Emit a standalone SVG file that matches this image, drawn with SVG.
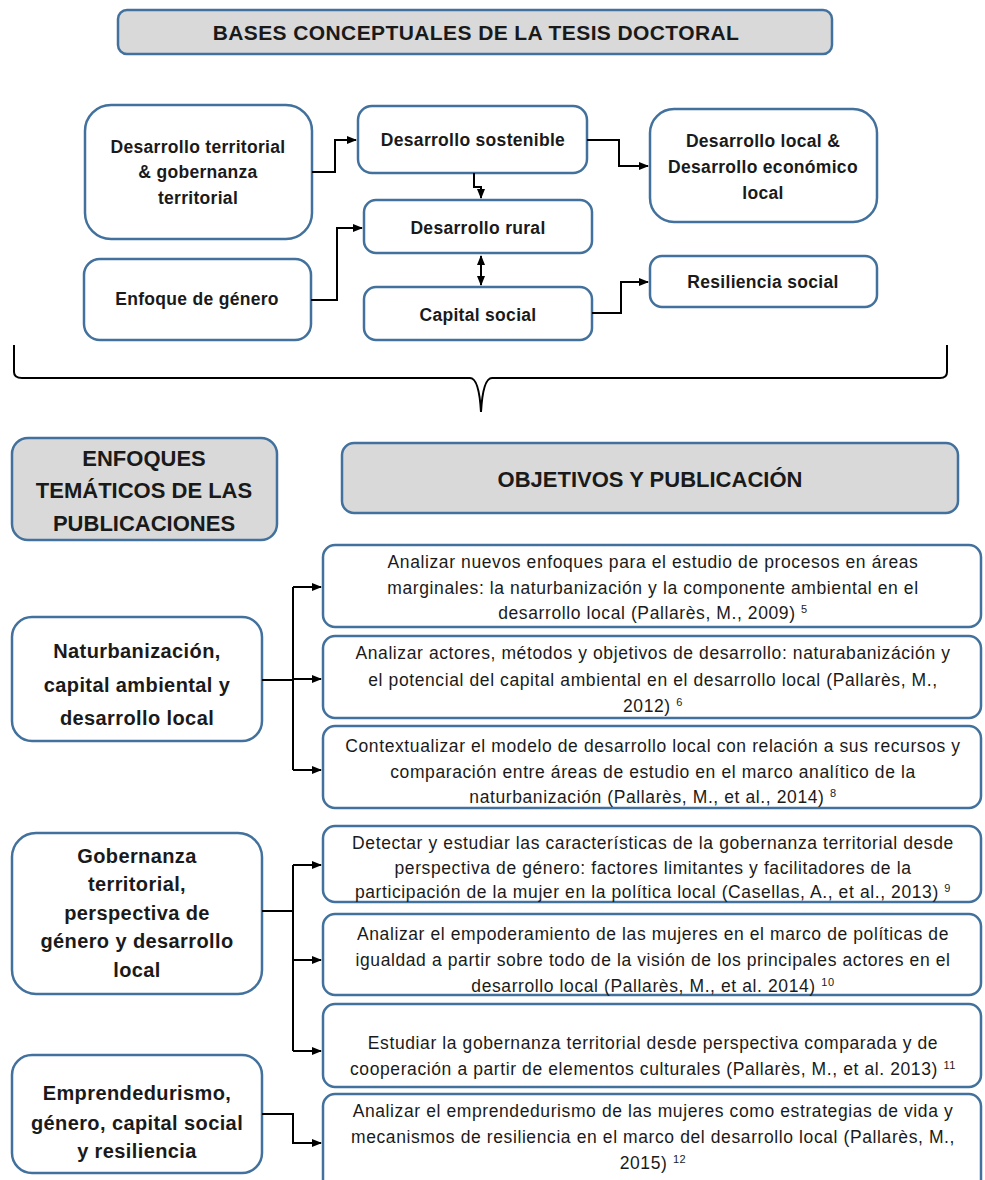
<svg xmlns="http://www.w3.org/2000/svg" width="985" height="1180" viewBox="0 0 985 1180">
<defs>
<marker id="ah" viewBox="0 0 10 10" refX="9" refY="5" markerWidth="5" markerHeight="5" orient="auto-start-reverse">
<path d="M0,1 L10,5 L0,9 z" fill="#000"/>
</marker>
<style>
.box{fill:#fff;stroke:#41719c;stroke-width:2.5}
.hdr{fill:#d9d9d9;stroke:#41719c;stroke-width:2.5}
.t{font-family:"Liberation Sans",Arial,sans-serif;fill:#1a1a1a;text-anchor:middle}
.b{font-weight:bold}
.top{font-size:17.5px;letter-spacing:0.3px}
.th{font-size:20px;letter-spacing:0.4px}
.obj{font-size:17.5px;letter-spacing:0.6px}
.c{fill:none;stroke:#000;stroke-width:2}
.sup{font-size:11px}
</style>
</defs>
<rect width="985" height="1180" fill="#fff"/>

<g id="title">
<rect class="hdr" x="118" y="10" width="714" height="44" rx="9"/>
<text class="t b" x="476" y="40" font-size="21" letter-spacing="0.4">BASES CONCEPTUALES DE LA TESIS DOCTORAL</text>
</g>

<g id="n-territorial">
<rect class="box" x="85" y="105" width="227" height="134" rx="26"/>
<text class="t b top" x="198" y="153">Desarrollo territorial</text>
<text class="t b top" x="198" y="178">&amp; gobernanza</text>
<text class="t b top" x="198" y="204">territorial</text>
</g>
<g id="n-sostenible">
<rect class="box" x="358" y="106" width="229" height="67" rx="14"/>
<text class="t b top" x="473" y="146">Desarrollo sostenible</text>
</g>
<g id="n-local">
<rect class="box" x="650" y="109" width="227" height="113" rx="24"/>
<text class="t b top" x="763" y="147">Desarrollo local &amp;</text>
<text class="t b top" x="763" y="173">Desarrollo económico</text>
<text class="t b top" x="763" y="199">local</text>
</g>
<g id="n-rural">
<rect class="box" x="364" y="200" width="228" height="53" rx="12"/>
<text class="t b top" x="478" y="234">Desarrollo rural</text>
</g>
<g id="n-genero">
<rect class="box" x="84" y="259" width="227" height="81" rx="16"/>
<text class="t b top" x="197" y="305">Enfoque de género</text>
</g>
<g id="n-capital">
<rect class="box" x="364" y="287" width="228" height="53" rx="12"/>
<text class="t b top" x="478" y="321">Capital social</text>
</g>
<g id="n-resiliencia">
<rect class="box" x="650" y="256" width="227" height="51" rx="12"/>
<text class="t b top" x="763" y="288">Resiliencia social</text>
</g>

<g id="brace">
<path class="c" d="M14,345 L14,372 Q14,378 22,378 L470,378 Q479,378 481,412 Q483,378 492,378 L940,378 Q947,378 947,372 L947,345" stroke-width="1.5"/>
</g>

<g id="h-enfoques">
<rect class="hdr" x="12" y="438" width="265" height="102" rx="16"/>
<text class="t b" x="144" y="466" font-size="22">ENFOQUES</text>
<text class="t b" x="144" y="498" font-size="22">TEMÁTICOS DE LAS</text>
<text class="t b" x="144" y="531" font-size="22">PUBLICACIONES</text>
</g>
<g id="h-objetivos">
<rect class="hdr" x="342" y="443" width="616" height="70" rx="12"/>
<text class="t b" x="650" y="487" font-size="22">OBJETIVOS Y PUBLICACIÓN</text>
</g>

<g id="t-naturbanizacion">
<rect class="box" x="12" y="617" width="250" height="124" rx="20"/>
<text class="t b th" x="137" y="658">Naturbanización,</text>
<text class="t b th" x="137" y="692">capital ambiental y</text>
<text class="t b th" x="137" y="725">desarrollo local</text>
</g>
<g id="t-gobernanza">
<rect class="box" x="12" y="833" width="250" height="161" rx="24"/>
<text class="t b th" x="137" y="863">Gobernanza</text>
<text class="t b th" x="137" y="891">territorial,</text>
<text class="t b th" x="137" y="920">perspectiva de</text>
<text class="t b th" x="137" y="948">género y desarrollo</text>
<text class="t b th" x="137" y="977">local</text>
</g>
<g id="t-emprendedurismo">
<rect class="box" x="12" y="1055" width="250" height="118" rx="20"/>
<text class="t b th" x="137" y="1100">Emprendedurismo,</text>
<text class="t b th" x="137" y="1130">género, capital social</text>
<text class="t b th" x="137" y="1158">y resiliencia</text>
</g>

<g id="o1">
<rect class="box" x="323" y="545" width="658" height="82" rx="12"/>
<text class="t obj" x="653" y="568">Analizar nuevos enfoques para el estudio de procesos en áreas</text>
<text class="t obj" x="653" y="594">marginales: la naturbanización y la componente ambiental en el</text>
<text class="t obj" x="653" y="619">desarrollo local (Pallarès, M., 2009) <tspan class="sup" dy="-6">5</tspan></text>
</g>
<g id="o2">
<rect class="box" x="323" y="636" width="658" height="82" rx="12"/>
<text class="t obj" x="653" y="659">Analizar actores, métodos y objetivos de desarrollo: naturabanizáción y</text>
<text class="t obj" x="653" y="686">el potencial del capital ambiental en el desarrollo local (Pallarès, M.,</text>
<text class="t obj" x="653" y="712">2012) <tspan class="sup" dy="-6">6</tspan></text>
</g>
<g id="o3">
<rect class="box" x="323" y="726" width="658" height="82" rx="12"/>
<text class="t obj" x="653" y="752">Contextualizar el modelo de desarrollo local con relación a sus recursos y</text>
<text class="t obj" x="653" y="778">comparación entre áreas de estudio en el marco analítico de la</text>
<text class="t obj" x="653" y="803">naturbanización (Pallarès, M., et al., 2014) <tspan class="sup" dy="-6">8</tspan></text>
</g>
<g id="o4">
<rect class="box" x="323" y="826" width="658" height="76" rx="12"/>
<text class="t obj" x="653" y="849">Detectar y estudiar las características de la gobernanza territorial desde</text>
<text class="t obj" x="653" y="874">perspectiva de género: factores limitantes y facilitadores de la</text>
<text class="t obj" x="653" y="898">participación de la mujer en la política local (Casellas, A., et al., 2013) <tspan class="sup" dy="-6">9</tspan></text>
</g>
<g id="o5">
<rect class="box" x="323" y="914" width="658" height="81" rx="12"/>
<text class="t obj" x="653" y="940">Analizar el empoderamiento de las mujeres en el marco de políticas de</text>
<text class="t obj" x="653" y="966">igualdad a partir sobre todo de la visión de los principales actores en el</text>
<text class="t obj" x="653" y="992">desarrollo local (Pallarès, M., et al. 2014) <tspan class="sup" dy="-6">10</tspan></text>
</g>
<g id="o6">
<rect class="box" x="323" y="1004" width="658" height="83" rx="12"/>
<text class="t obj" x="653" y="1049">Estudiar la gobernanza territorial desde perspectiva comparada y de</text>
<text class="t obj" x="653" y="1075">cooperación a partir de elementos culturales (Pallarès, M., et al. 2013) <tspan class="sup" dy="-6">11</tspan></text>
</g>
<g id="o7">
<rect class="box" x="323" y="1094" width="658" height="100" rx="12"/>
<text class="t obj" x="653" y="1117">Analizar el emprendedurismo de las mujeres como estrategias de vida y</text>
<text class="t obj" x="653" y="1143">mecanismos de resiliencia en el marco del desarrollo local (Pallarès, M.,</text>
<text class="t obj" x="653" y="1169">2015) <tspan class="sup" dy="-6">12</tspan></text>
</g>

<g id="connectors">
<path class="c" d="M312,172 H335 V140 H356" marker-end="url(#ah)"/>
<path class="c" d="M587,140 H619 V166 H648" marker-end="url(#ah)"/>
<path class="c" d="M474,173 V187 H481 V198" marker-end="url(#ah)"/>
<path class="c" d="M311,300 H337 V228 H362" marker-end="url(#ah)"/>
<path class="c" d="M481,256 V285" marker-start="url(#ah)" marker-end="url(#ah)"/>
<path class="c" d="M592,313 H621 V282 H648" marker-end="url(#ah)"/>
<path class="c" d="M262,680 H293"/>
<path class="c" d="M293,587 V770"/>
<path class="c" d="M293,587 H321" marker-end="url(#ah)"/>
<path class="c" d="M293,679 H321" marker-end="url(#ah)"/>
<path class="c" d="M293,770 H321" marker-end="url(#ah)"/>
<path class="c" d="M262,911 H293"/>
<path class="c" d="M293,865 V1051"/>
<path class="c" d="M293,865 H321" marker-end="url(#ah)"/>
<path class="c" d="M293,960 H321" marker-end="url(#ah)"/>
<path class="c" d="M293,1051 H321" marker-end="url(#ah)"/>
<path class="c" d="M262,1114 H293 V1143 H321" marker-end="url(#ah)"/>
</g>
</svg>
